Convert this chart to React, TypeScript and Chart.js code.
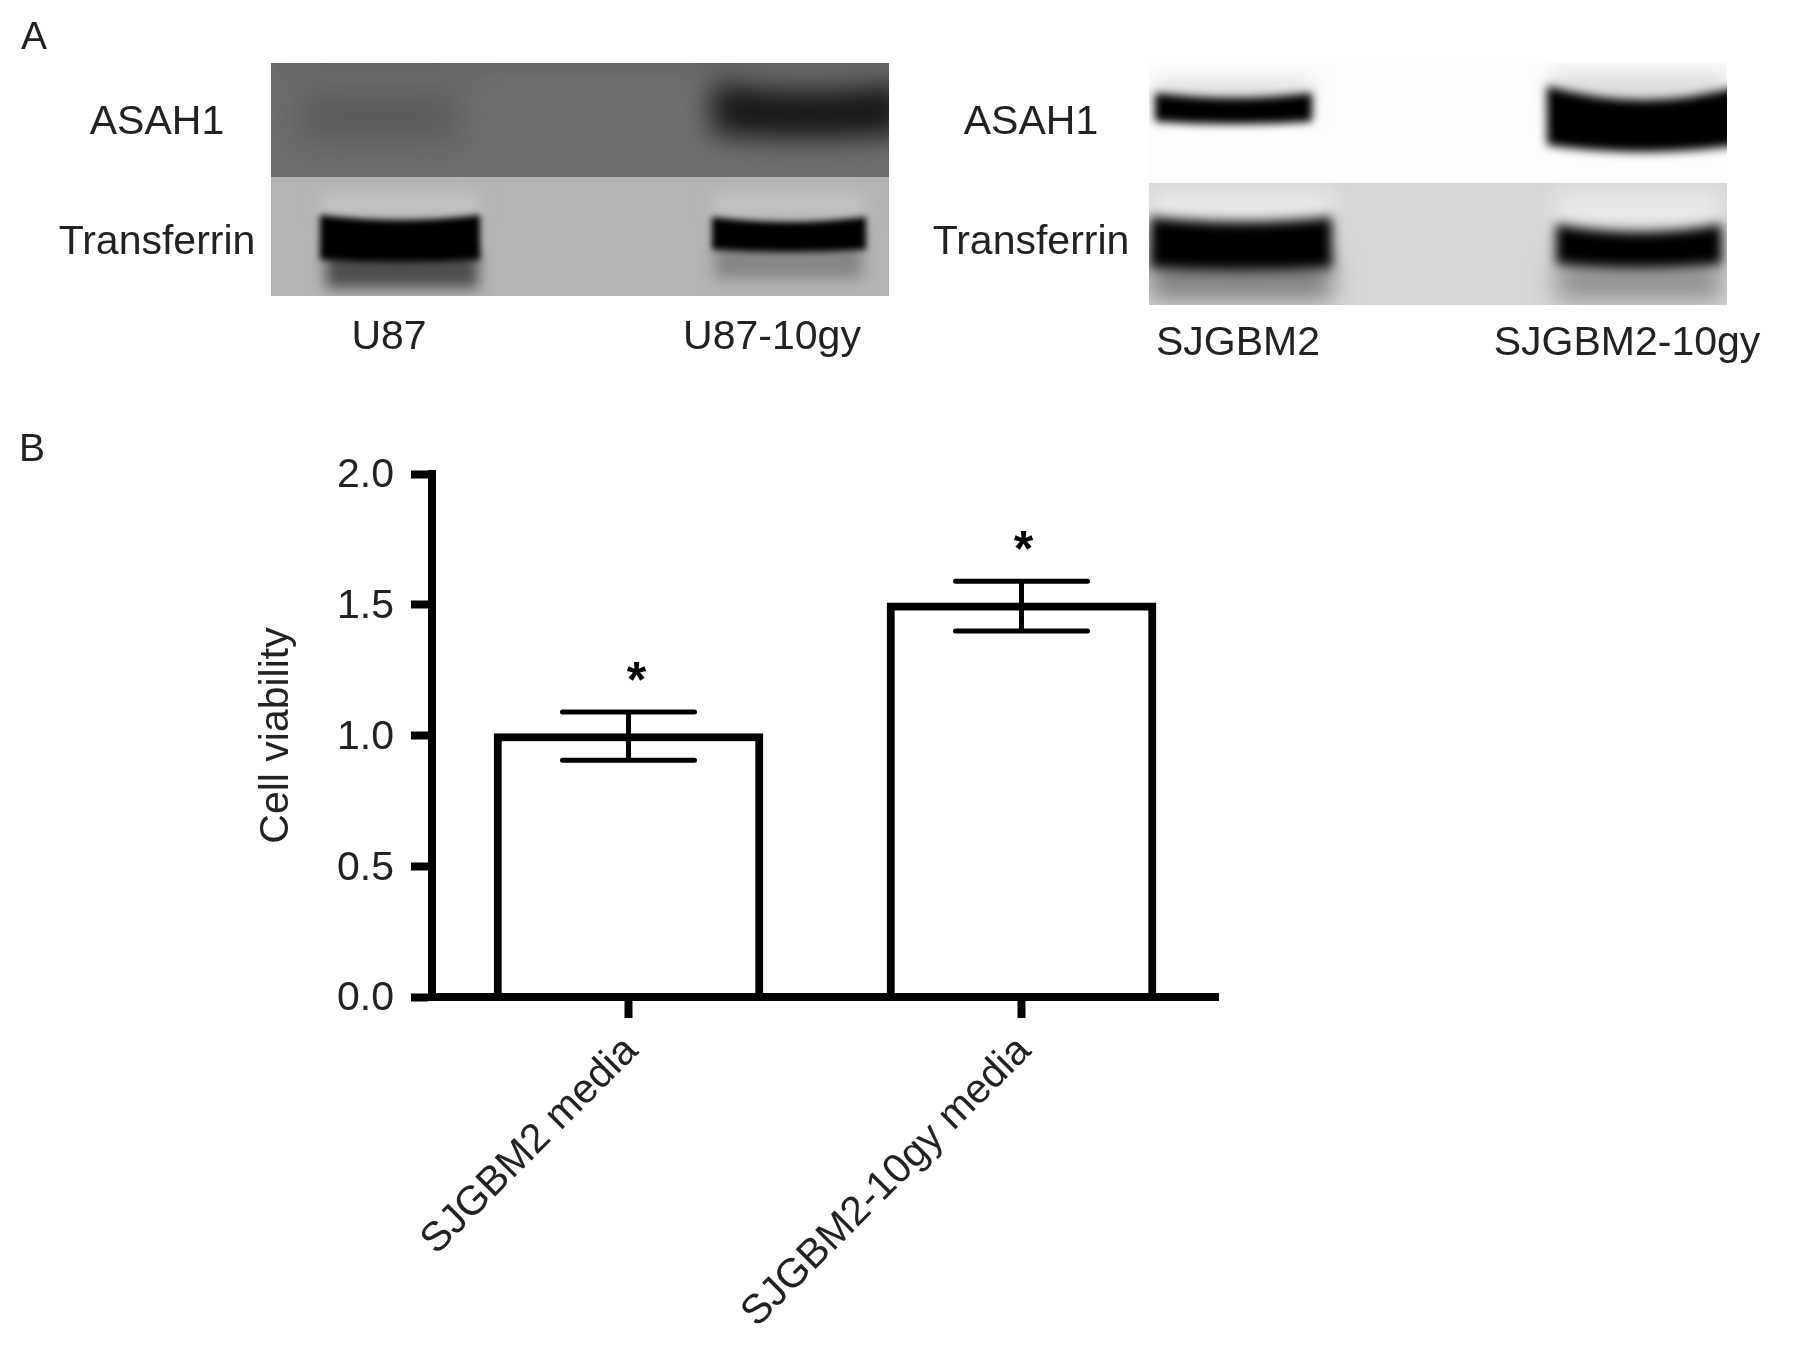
import React, { useEffect, useRef } from "react";
import { Chart, registerables } from "chart.js";

Chart.register(...registerables);

const categories = ["SJGBM2 media", "SJGBM2-10gy media"];
const viability = [1.0, 1.5];
const errorUpper = [1.09, 1.59];
const errorLower = [0.905, 1.4];
const significance = ["*", "*"];
const yTicks = [0, 0.5, 1, 1.5, 2];
const yTitle = "Cell viability";

const FONT = '"Liberation Sans", Arial, sans-serif';
const TEXT = "#222222";
const LINE = 8;
const starNudge = [8, 2];

type Band = [number, number, number, number, number, string, number];
type Panel = { x: number; y: number; w: number; h: number; bg: string; bands: Band[] };

// Blot pictures: x0, x1, top, bottom, edge lift, colour, blur
const blotPanels: Panel[] = [
  {
    x: 271, y: 63, w: 618, h: 114, bg: "#6f6f6f",
    bands: [
      [271, 889, 50, 72, 0, "#666666", 10],
      [298, 460, 90, 142, 0, "#5a5a5a", 18],
      [712, 905, 90, 138, 8, "#161616", 14],
    ],
  },
  {
    x: 271, y: 177, w: 618, h: 119, bg: "#b3b3b3",
    bands: [
      [320, 480, 192, 216, 0, "#c2c2c2", 8],
      [712, 866, 192, 216, 0, "#c2c2c2", 8],
      [326, 478, 250, 288, 0, "#4e4e4e", 7],
      [320, 480, 220, 262, 5, "#000000", 3],
      [715, 862, 245, 278, 0, "#858585", 7],
      [712, 866, 222, 252, 5, "#000000", 3],
    ],
  },
  {
    x: 1149, y: 63, w: 578, h: 118, bg: "#fdfdfd",
    bands: [
      [1155, 1312, 80, 112, 0, "#dddddd", 10],
      [1550, 1727, 72, 112, 0, "#dddddd", 10],
      [1155, 1312, 98, 124, 5, "#000000", 4],
      [1547, 1740, 100, 152, 14, "#000000", 5],
    ],
  },
  {
    x: 1149, y: 183, w: 578, h: 122, bg: "#d7d7d7",
    bands: [
      [1150, 1332, 190, 222, 0, "#e8e8e8", 10],
      [1556, 1722, 190, 228, 0, "#e8e8e8", 10],
      [1150, 1332, 255, 300, 0, "#808080", 12],
      [1150, 1332, 222, 270, 5, "#000000", 6],
      [1556, 1722, 262, 300, 0, "#909090", 12],
      [1556, 1722, 232, 268, 8, "#000000", 6],
    ],
  },
];

const blotLabels: [string, number, number][] = [
  ["ASAH1", 157, 123],
  ["Transferrin", 157, 243],
  ["U87", 389, 338],
  ["U87-10gy", 772, 338],
  ["ASAH1", 1031, 123],
  ["Transferrin", 1031, 243],
  ["SJGBM2", 1238, 344],
  ["SJGBM2-10gy", 1627, 344],
];

const panelLetters: [string, number, number][] = [
  ["A", 34, 38],
  ["B", 32, 450],
];

const drawBand = (ctx: CanvasRenderingContext2D, b: Band) => {
  const [x0, x1, top, bottom, lift, color, blur] = b;
  const mid = (x0 + x1) / 2;
  ctx.save();
  ctx.filter = `blur(${blur}px)`;
  ctx.fillStyle = color;
  ctx.beginPath();
  ctx.moveTo(x0, top - lift);
  ctx.quadraticCurveTo(mid, top + lift, x1, top - lift);
  ctx.lineTo(x1, bottom - lift / 2);
  ctx.quadraticCurveTo(mid, bottom + lift / 2, x0, bottom - lift / 2);
  ctx.closePath();
  ctx.fill();
  ctx.restore();
};

const figurePlugin = {
  id: "figure",
  beforeDraw(chart: any) {
    const ctx = chart.ctx as CanvasRenderingContext2D;
    for (const p of blotPanels) {
      ctx.save();
      ctx.beginPath();
      ctx.rect(p.x, p.y, p.w, p.h);
      ctx.clip();
      ctx.fillStyle = p.bg;
      ctx.fillRect(p.x, p.y, p.w, p.h);
      p.bands.forEach((b) => drawBand(ctx, b));
      ctx.restore();
    }
    ctx.save();
    ctx.fillStyle = TEXT;
    ctx.font = `41px ${FONT}`;
    ctx.textAlign = "center";
    ctx.textBaseline = "middle";
    blotLabels.forEach(([t, x, y]) => ctx.fillText(t, x, y));
    ctx.font = `39px ${FONT}`;
    panelLetters.forEach(([t, x, y]) => ctx.fillText(t, x, y));
    ctx.restore();
  },
  // The reference centres the bar outline on the value, Chart.js draws it inside the bar.
  beforeDatasetsDraw(chart: any) {
    chart.ctx.save();
    chart.ctx.translate(0, -2);
  },
  afterDatasetsDraw(chart: any) {
    chart.ctx.restore();
  },
  afterDraw(chart: any) {
    const ctx = chart.ctx as CanvasRenderingContext2D;
    const xs = chart.scales.x;
    const ys = chart.scales.y;
    ctx.save();
    ctx.fillStyle = "#000000";
    ctx.fillRect(xs.left - LINE / 2, ys.getPixelForValue(2) - LINE / 2, LINE, LINE / 2 + 1);
    ctx.strokeStyle = "#000000";
    ctx.lineWidth = 5;
    ctx.lineCap = "round";
    const capHalf = 66;
    categories.forEach((_, i) => {
      const x = xs.getPixelForValue(i);
      const hi = ys.getPixelForValue(errorUpper[i]);
      const lo = ys.getPixelForValue(errorLower[i]);
      ctx.beginPath();
      ctx.moveTo(x, hi);
      ctx.lineTo(x, lo);
      ctx.moveTo(x - capHalf, hi);
      ctx.lineTo(x + capHalf, hi);
      ctx.moveTo(x - capHalf, lo);
      ctx.lineTo(x + capHalf, lo);
      ctx.stroke();
      ctx.fillStyle = "#000000";
      ctx.font = `bold 50px ${FONT}`;
      ctx.textAlign = "center";
      ctx.textBaseline = "alphabetic";
      ctx.fillText(significance[i], x + starNudge[i], hi - 15);
    });
    ctx.restore();
  },
};

export default function App() {
  const ref = useRef<HTMLCanvasElement | null>(null);

  useEffect(() => {
    if (!ref.current) return;
    const chart = new Chart(ref.current, {
      type: "bar",
      data: {
        labels: categories,
        datasets: [
          {
            data: viability,
            backgroundColor: "#ffffff",
            borderColor: "#000000",
            borderWidth: LINE,
            borderSkipped: "bottom",
            barThickness: 269,
          },
        ],
      },
      plugins: [figurePlugin],
      options: {
        responsive: false,
        animation: false,
        layout: { padding: { top: 474, right: 575, left: 0, bottom: 0 } },
        plugins: { legend: { display: false }, tooltip: { enabled: false } },
        scales: {
          x: {
            afterFit: (s: any) => {
              s.height = 356;
            },
            grid: {
              offset: false,
              drawOnChartArea: false,
              tickLength: 21,
              tickWidth: LINE,
              tickColor: "#000000",
            },
            border: { color: "#000000", width: LINE, z: 1 },
            ticks: {
              color: TEXT,
              font: { family: FONT, size: 41 },
              minRotation: 45,
              maxRotation: 45,
              padding: 9,
              labelOffset: 3,
            },
          },
          y: {
            min: yTicks[0],
            max: yTicks[yTicks.length - 1],
            afterFit: (s: any) => {
              s.width = 432;
            },
            afterBuildTicks: (s: any) => {
              s.ticks = yTicks.map((value) => ({ value }));
            },
            grid: {
              drawOnChartArea: false,
              tickLength: 21,
              tickWidth: LINE,
              tickColor: "#000000",
            },
            border: { color: "#000000", width: LINE },
            ticks: {
              color: TEXT,
              font: { family: FONT, size: 41 },
              padding: 17,
              labelOffset: 2,
              callback: (v: any) => Number(v).toFixed(1),
            },
            title: {
              display: true,
              text: yTitle,
              color: TEXT,
              font: { family: FONT, size: 41 },
              padding: { top: 252, bottom: 0 },
            },
          },
        },
      },
    } as any);
    return () => chart.destroy();
  }, []);

  return (
    <canvas
      ref={ref}
      width={1793}
      height={1353}
      style={{ position: "absolute", left: 0, top: 0, display: "block" }}
    />
  );
}
